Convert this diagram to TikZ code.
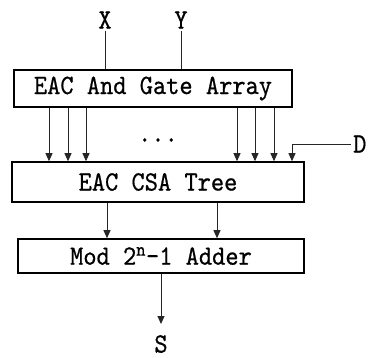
\documentclass[tikz,border=0pt]{standalone}
\usepackage{fontspec}
\newfontfamily\blockfont{lmmono10-regular}[Extension=.otf, FakeStretch=0.9, FakeBold=0.6]
\usetikzlibrary{arrows.meta}
\begin{document}
\begin{tikzpicture}[x=1pt, y=-1pt,
  block/.style={draw, line width=1.6pt, rectangle, inner sep=0pt},
  sig/.style={line width=0.9pt, black!85},
  arr/.style={sig, -{Triangle[width=7pt, length=8pt]}},
  every node/.style={font=\blockfont\fontsize{28}{30}\selectfont}]
  \useasboundingbox (0,0) rectangle (369,358);
  % Nodes
  \node[block, minimum width=278pt, minimum height=37pt] (and) at (153,88.5) {EAC And Gate Array};
  \node[block, minimum width=292pt, minimum height=40pt] (csa) at (158,182) {EAC CSA Tree};
  \node[block, minimum width=286pt, minimum height=34pt] (adder) at (161,256) {Mod 2\textsuperscript{n}\textendash1 Adder};
  \node[inner sep=2pt] (x) at (105,20) {X};
  \node[inner sep=2pt] (y) at (181,20) {Y};
  \node[inner sep=2pt, anchor=west] (d) at (351,144) {D};
  \node[inner sep=0pt] (s) at (161,344) {S};
  \node (dots) at (158,140) {...};
  \coordinate (dtip) at (292,0);
  \coordinate (sout) at (161,324);

  % Edges
  \draw[sig] (x) -- (and.north -| x);
  \draw[sig] (y) -- (and.north -| y);
  \foreach \px in {49,68,86,237,255,274}
    \draw[arr] (and.south -| \px,0) -- (csa.north -| \px,0);
  \draw[arr] (d.west) -| (csa.north -| dtip);
  \draw[arr] (csa.south -| 107,0) -- (adder.north -| 107,0);
  \draw[arr] (csa.south -| 217,0) -- (adder.north -| 217,0);
  \draw[arr] (adder.south -| sout) -- (sout);
\end{tikzpicture}
\end{document}
